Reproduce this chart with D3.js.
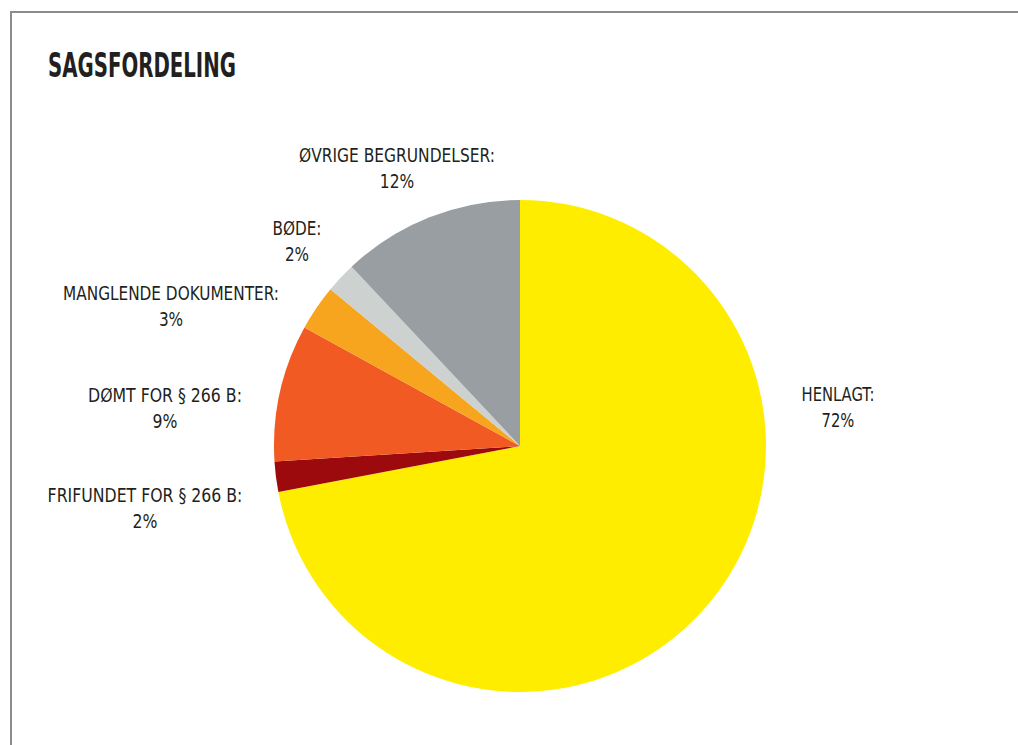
<!DOCTYPE html>
<html>
<head>
<meta charset="utf-8">
<script src="https://cdn.jsdelivr.net/npm/d3@7"></script>
<style>
  body { margin: 0; background: #fff; }
  svg text { font-family: "DejaVu Sans Condensed", "DejaVu Sans", sans-serif; font-stretch: condensed; fill: #231f20; }
</style>
</head>
<body>
<svg id="chart"></svg>
<script>
var categories = ["HENLAGT:", "FRIFUNDET FOR § 266 B:", "DØMT FOR § 266 B:", "MANGLENDE DOKUMENTER:", "BØDE:", "ØVRIGE BEGRUNDELSER:"];
var shares = [72, 2, 9, 3, 2, 12];
var colors = ["#ffed00", "#9d0a0e", "#f15a22", "#f7a51e", "#cdd1d0", "#989ea1"];

// hand placed label layout: centre x, first baseline y, width of first line
var labelPos = [[838, 401], [145, 502], [165, 402], [171, 300], [297, 235], [397, 162]];
var labelWidth = [73, 195, 154, 216, 49, 196];

var width = 1018,
    height = 745,
    cx = 520,
    cy = 446,
    radius = 246;

var svg = d3.select("#chart")
    .attr("width", width)
    .attr("height", height);

// frame: top and left rule
svg.append("path")
    .attr("d", "M11," + height + "V12H" + width)
    .attr("fill", "none")
    .attr("stroke", "#8c8c8c")
    .attr("stroke-width", 2);

var title = svg.append("text")
    .attr("x", 0)
    .attr("y", 0)
    .style("font-size", "33px")
    .style("font-weight", "bold")
    .text("SAGSFORDELING");
// the original face is a narrow gothic, so squeeze to its width
var tw = title.node().getComputedTextLength();
title.attr("transform", "translate(48,77) scale(" + (188 / tw) + ",1)");

var pie = d3.pie().sort(null).value(function (d) { return d; });
var arc = d3.arc().innerRadius(0).outerRadius(radius);

var g = svg.append("g").attr("transform", "translate(" + cx + "," + cy + ")");

g.selectAll("path.slice")
    .data(pie(shares))
    .enter().append("path")
    .attr("class", "slice")
    .attr("d", arc)
    .attr("fill", function (d, i) { return colors[i]; });

var labels = svg.selectAll("text.label")
    .data(categories)
    .enter().append("text")
    .attr("class", "label")
    .attr("text-anchor", "middle")
    .style("font-size", "20px");

labels.append("tspan")
    .attr("class", "name")
    .attr("x", 0)
    .attr("y", 0)
    .text(function (d) { return d; });

labels.append("tspan")
    .attr("x", 0)
    .attr("y", 26)
    .text(function (d, i) { return shares[i] + "%"; });

labels.each(function (d, i) {
    var w = d3.select(this).select("tspan.name").node().getComputedTextLength();
    var s = Math.min(1, labelWidth[i] / w);
    d3.select(this).attr("transform", "translate(" + labelPos[i][0] + "," + labelPos[i][1] + ") scale(" + s + ",1)");
});
</script>
</body>
</html>
